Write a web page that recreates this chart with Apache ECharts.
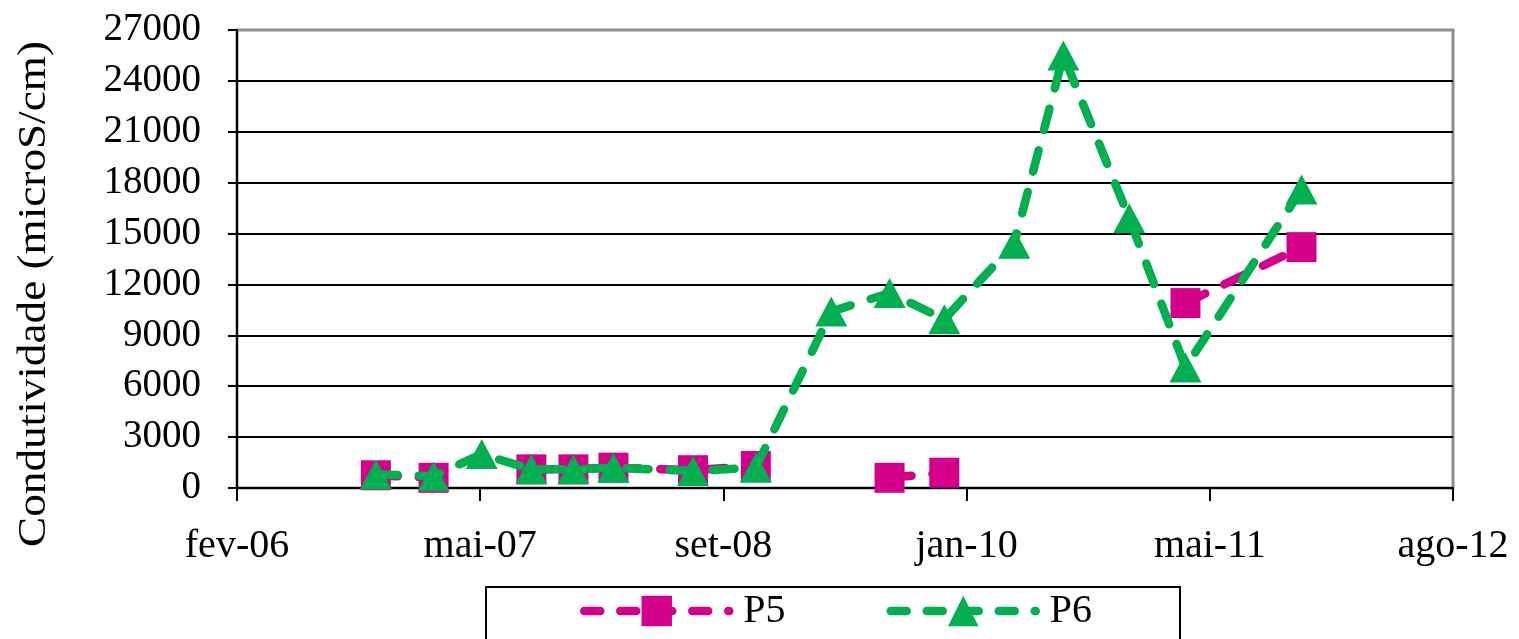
<!DOCTYPE html>
<html>
<head>
<meta charset="utf-8">
<script src="https://cdn.jsdelivr.net/npm/echarts@6/dist/echarts.min.js"></script>
<style>
  html, body { margin: 0; padding: 0; background: #fff; }
  #chart { width: 1519px; height: 639px; }
</style>
</head>
<body>
<div id="chart"></div>
<script>
// Sampling dates (both wells share the same campaigns)
const sampleDates = ['2006-11-02', '2007-02-24', '2007-05-30', '2007-09-05', '2007-11-27',
  '2008-02-14', '2008-07-20', '2008-11-21', '2009-04-19', '2009-08-12', '2009-11-28',
  '2010-04-15', '2010-07-21', '2010-11-28', '2011-03-19', '2011-11-03'];

// Conductivity (microS/cm); null = no measurement in that campaign
const p5Values = [750, 600, null, 1100, 1100, 1200, 1050, 1300, null, 600, 900,
  null, null, null, 10900, 14200];
const p6Values = [800, 700, 2000, 1100, 1100, 1200, 1000, 1200, 10400, 11500, 9950,
  14400, 25500, 15900, 7100, 17600];

const seriesNames = ['P5', 'P6'];
const yTicks = { min: 0, max: 27000, step: 3000 };
const axisStart = '2006-02-01';   // first tick (fev-06)
const tickDays = 480;            // date-axis major unit, in days
const tickCount = 5;
const monthAbbr = ['jan', 'fev', 'mar', 'abr', 'mai', 'jun', 'jul', 'ago', 'set', 'out', 'nov', 'dez'];
const yAxisTitle = 'Condutividade (microS/cm)';

const DAY = 86400000;
const startMs = Date.parse(axisStart + 'T00:00:00Z');
const toDay = d => Math.round((Date.parse(d + 'T00:00:00Z') - startMs) / DAY);
const fmtDay = v => {
  const dt = new Date(startMs + v * DAY);
  return monthAbbr[dt.getUTCMonth()] + '-' + String(dt.getUTCFullYear()).slice(2);
};
const pairs = vals => sampleDates.map((d, i) => [toDay(d), vals[i] == null ? '-' : vals[i]]);

const FONT = '"Liberation Serif", "Times New Roman", serif';
const MAGENTA = '#d4008c';
const GREEN = '#00b050';
const DASH = [22, 21];
const LINE_W = 8.5;

// split line colours: black inside, grey on the top frame line
const nSplit = (yTicks.max - yTicks.min) / yTicks.step + 1;
const splitColors = [];
for (let i = 0; i < nSplit; i++) splitColors.push(i === nSplit - 1 ? '#8c8c8c' : '#000');

const chart = echarts.init(document.getElementById('chart'), null, { renderer: 'canvas' });

function lineSeries(name, values, symbol, size, color, z) {
  return {
    type: 'line',
    name: name,
    data: pairs(values),
    connectNulls: false,
    symbol: symbol,
    symbolSize: size,
    itemStyle: { color: color },
    lineStyle: { color: color, width: LINE_W, type: DASH, cap: 'round', join: 'round' },
    emphasis: { disabled: true },
    animation: false,
    z: z
  };
}

chart.setOption({
  backgroundColor: '#fff',
  animation: false,
  grid: {
    left: 237, right: 66, top: 30, bottom: 151,
    show: true, borderColor: '#8c8c8c', borderWidth: 3, backgroundColor: 'transparent'
  },
  xAxis: {
    type: 'value',
    min: 0, max: tickDays * tickCount, interval: tickDays,
    axisLine: { show: true, onZero: false, lineStyle: { color: '#000', width: 2 } },
    axisTick: { show: true, length: 13, lineStyle: { color: '#000', width: 2 } },
    splitLine: { show: false },
    axisLabel: {
      formatter: fmtDay, color: '#000', fontFamily: FONT, fontSize: 40, margin: 38
    }
  },
  yAxis: {
    type: 'value',
    min: yTicks.min, max: yTicks.max, interval: yTicks.step,
    axisLine: { show: true, lineStyle: { color: '#000', width: 2 } },
    axisTick: { show: true, length: 9, lineStyle: { color: '#000', width: 2 } },
    splitLine: { show: true, lineStyle: { color: splitColors, width: 2 } },
    axisLabel: {
      formatter: v => String(v),
      color: '#000', fontFamily: FONT, fontSize: 39, margin: 36
    }
  },
  legend: {
    data: seriesNames,
    left: 486, top: 587,
    orient: 'horizontal',
    borderColor: '#000', borderWidth: 2,
    padding: [4, 88, 30, 94],
    itemWidth: 145, itemHeight: 38, itemGap: 101,
    lineStyle: { width: LINE_W, type: [16, 20], cap: 'round' },
    textStyle: { color: '#000', fontFamily: FONT, fontSize: 40, padding: [0, 0, 0, 9] },
    selectedMode: false
  },
  graphic: [{
    type: 'text',
    x: 34, y: 294,
    rotation: Math.PI / 2,
    scaleX: 1.13,
    style: {
      text: yAxisTitle, fill: '#000', font: '40px ' + FONT,
      align: 'center', verticalAlign: 'middle'
    }
  }],
  series: [
    lineSeries(seriesNames[0], p5Values, 'rect', 30, MAGENTA, 2),
    lineSeries(seriesNames[1], p6Values, 'triangle', [32, 30], GREEN, 3)
  ]
});
</script>
</body>
</html>
